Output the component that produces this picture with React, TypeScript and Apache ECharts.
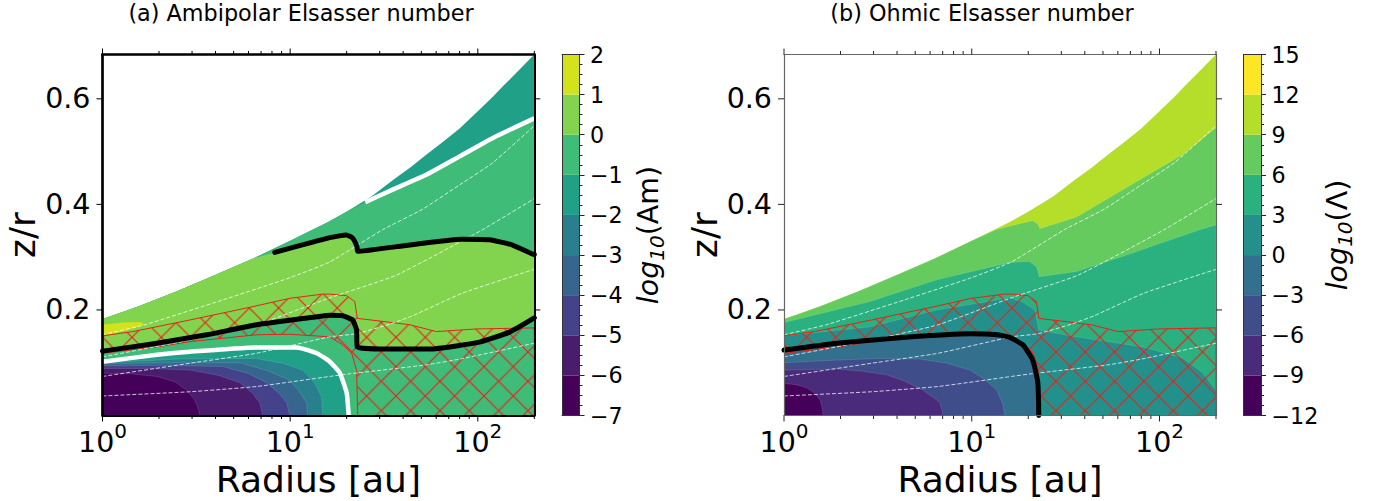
import React, { useEffect, useRef } from "react";
import * as echarts from "echarts";

type P = number[];
const FONT = "DejaVu Sans";
const W = 1384, H = 501;

// values: each point is [log10(radius / au), z/r]
const diskSurface: P[] = [[0,.183],[.1,.195],[.2,.208],[.4,.236],[.6,.266],[.8,.297],[1.0,.331],[1.2,.366],[1.3,.386],[1.433,.415],[1.548,.446],[1.64,.470],[1.725,.494],[1.82,.520],[1.903,.544],[1.99,.573],[2.08,.604],[2.14,.626],[2.204,.649],[2.301,.684]];

const amWhiteUpper: P[] = [[1.40,.404],[1.546,.428],[1.725,.456],[1.903,.491],[2.08,.526],[2.301,.563]];
const amBlackUpper: P[] = [[.918,.309],[1.211,.337],[1.300,.342],[1.333,.336],[1.356,.320],[1.360,.311],[1.567,.320],[1.919,.334],[2.062,.333],[2.185,.323],[2.291,.306],[2.301,.305]];
const amBlackLower: P[] = [[0,.122],[.29,.137],[.556,.153],[.822,.172],[1.142,.187],[1.211,.190],[1.280,.189],[1.333,.181],[1.354,.162],[1.357,.130],[1.477,.126],[1.743,.126],[2.009,.139],[2.169,.158],[2.301,.185]];
const amYellowPatch: P[] = [[0,.172],[.109,.176],[.20,.177],[.226,.173],[.173,.166],[.093,.158],[0,.151]];
const amWhiteLower: P[] = [[0,.102],[.29,.115],[.466,.121],[.822,.129],[1.035,.129],[1.142,.118],[1.211,.102],[1.264,.081],[1.301,.043],[1.312,0]];
const amLevelM2: P[] = [[0,.100],[.412,.107],[.822,.108],[.96,.099],[1.067,.086],[1.13,.062],[1.168,.035],[1.173,0]];
const amLevelM3: P[] = [[0,.098],[.35,.100],[.732,.100],[.88,.085],[.998,.067],[1.05,.045],[1.088,.024],[1.094,0]];
const amLevelM4: P[] = [[0,.094],[.3,.095],[.641,.093],[.78,.079],[.875,.062],[.94,.042],[.982,.024],[.998,0]];
const amLevelM5: P[] = [[0,.089],[.25,.089],[.466,.086],[.62,.076],[.732,.062],[.80,.042],[.838,.024],[.854,0]];
const amLevelM6: P[] = [[0,.080],[.15,.079],[.29,.074],[.386,.064],[.45,.048],[.49,.030],[.508,.016],[.519,0]];

const ohLevel9: P[] = [[1.130,.352],[1.203,.359],[1.325,.369],[1.352,.363],[1.362,.354],[1.559,.376],[1.911,.450],[2.123,.494],[2.301,.545]];
const ohLevel6: P[] = [[0,.176],[.458,.216],[.814,.257],[1.203,.290],[1.309,.292],[1.346,.281],[1.359,.263],[1.559,.273],[1.825,.304],[2.214,.352],[2.301,.361]];
const ohLevel3: P[] = [[0,.151],[.458,.168],[.814,.200],[1.203,.223],[1.272,.215],[1.336,.200],[1.357,.162],[1.559,.149],[1.911,.130],[2.123,.109],[2.230,.081],[2.301,.048]];
const ohBlack: P[] = [[0,.124],[.282,.137],[.633,.148],[.990,.155],[1.134,.153],[1.203,.148],[1.272,.134],[1.325,.105],[1.352,.062],[1.357,0]];
const ohLevelM3: P[] = [[0,.100],[.282,.105],[.5,.108],[.724,.107],[.87,.099],[.99,.086],[1.07,.068],[1.134,.048],[1.165,.022],[1.176,0]];
const ohLevelM6: P[] = [[0,.086],[.282,.088],[.42,.084],[.548,.077],[.65,.064],[.74,.048],[.80,.033],[.83,.024],[.842,.01],[.846,0]];
const ohLevelM9: P[] = [[0,.061],[.07,.058],[.122,.052],[.165,.042],[.192,.029],[.205,.012],[.208,0]];

const deadZone: P[] = [[0,.151],[.162,.159],[.466,.181],[.785,.205],[.998,.222],[1.173,.230],[1.211,.230],[1.301,.227],[1.344,.216],[1.358,.184],[1.477,.179],[1.636,.172],[1.780,.159],[1.993,.164],[2.301,.166],[2.301,0],[1.36,0],[1.354,.086],[1.328,.118],[1.280,.134],[1.211,.149],[.998,.154],[.822,.153],[.466,.140],[.29,.130],[0,.118]];

const dashedA: P[] = [[0,.037],[.466,.045],[.822,.055],[1.211,.074],[1.317,.079],[1.727,.096],[1.919,.108],[2.301,.137]];
const dashedB: P[] = [[0,.074],[.466,.099],[.822,.118],[1.211,.149],[1.354,.155],[1.530,.173],[1.652,.189],[1.919,.232],[2.301,.277]];
const dashedC: P[] = [[0,.111],[.466,.143],[.822,.172],[1.211,.223],[1.567,.266],[2.025,.352],[2.301,.411]];
const dashedD: P[] = [[0,.153],[.226,.172],[.641,.219],[.998,.261],[1.211,.291],[1.493,.352],[1.706,.391],[1.903,.437],[2.08,.479],[2.301,.549]];

const amLevels = [-7,-6,-5,-4,-3,-2,-1,0,1,2];
const amColors = ["#45015a","#4a1c6e","#44428a","#36668e","#2a7f8e","#20a187","#3fbc78","#82d44f","#d2e21b"];
const ohLevels = [-12,-9,-6,-3,0,3,6,9,12,15];
const ohColors = ["#45015a","#4a2a7a","#3f4e8a","#32708e","#24908c","#2bb07f","#65cb5e","#b5de2b","#fde725"];

const xMajor = [1,10,100];
const xMinor = [2,3,4,5,6,7,8,9,20,30,40,50,60,70,80,90,200];
const yMajor = [.2,.4,.6];
const xLim = [1,200];
const yLim = [0,.684];

const toData = (p: P) => [Math.pow(10,p[0]), p[1]];
const surfaceTo = (l: number) => diskSurface.filter(p => p[0] < l);
const closeBelow = (b: P[]) => (b[b.length-1][1] === 0 ? [...b,[0,0]] : [...b,[2.301,0],[0,0]]);

const hatchSvg = "data:image/svg+xml;utf8," + encodeURIComponent(
  '<svg xmlns="http://www.w3.org/2000/svg" width="30" height="30" viewBox="0 0 29.33 29.33"><path d="M-2 -2L31.33 31.33M31.33 -2L-2 31.33" stroke="#e4231a" stroke-width="1.2" fill="none"/></svg>');

let zc = 2;
function poly(g: number, pts: P[], fill: any, stroke = "rgba(255,255,255,0.25)", lw = 0.5) {
  const data = pts.map(toData);
  return {
    type: "custom", xAxisIndex: g*2, yAxisIndex: g*2, coordinateSystem: "cartesian2d",
    z: zc++, silent: true, clip: true, data, encode: { x: 0, y: 1 },
    renderItem: (params: any, api: any) => {
      if (params.dataIndex !== 0) return null;
      return { type: "polygon", shape: { points: data.map(d => api.coord(d)) }, style: { fill, stroke, lineWidth: lw } };
    },
  };
}
function curve(g: number, pts: P[], color: string, width: number, dash?: any, cap = "round") {
  return {
    type: "line", xAxisIndex: g*2, yAxisIndex: g*2, z: zc++, silent: true, clip: true, showSymbol: false, symbol: "none",
    data: pts.map(toData), smooth: 0.15,
    lineStyle: { color, width, type: dash || "solid", cap, join: "round" },
  };
}
function ticks(g: number, color: string) {
  return {
    type: "custom", xAxisIndex: g*2, yAxisIndex: g*2, coordinateSystem: "cartesian2d", z: 200, silent: true, clip: false,
    data: [[1,.2]], encode: { x: 0, y: 1 },
    renderItem: (_p: any, api: any) => {
      const children: any[] = [];
      const seg = (a: number[], dx: number, dy: number) => children.push({ type: "line", shape: { x1: a[0], y1: a[1], x2: a[0]+dx, y2: a[1]+dy }, style: { stroke: color, lineWidth: 1 } });
      xMajor.forEach(x => { seg(api.coord([x,yLim[0]]),0,6); seg(api.coord([x,yLim[1]]),0,-6); });
      xMinor.forEach(x => { seg(api.coord([x,yLim[0]]),0,3.5); seg(api.coord([x,yLim[1]]),0,-3.5); });
      yMajor.forEach(y => { seg(api.coord([xLim[0],y]),-6,0); seg(api.coord([xLim[1],y]),6,0); });
      return { type: "group", children };
    },
  };
}
function cbarBands(g: number, levels: number[], colors: string[]) {
  const data = colors.map((_, i) => [0, levels[i], levels[i+1], i]);
  return {
    type: "custom", xAxisIndex: g*2, yAxisIndex: g*2+1, coordinateSystem: "cartesian2d", z: 3, silent: true, data,
    encode: { x: 0, y: 1 },
    renderItem: (params: any, api: any) => {
      const d = data[params.dataIndex];
      const a = api.coord([0,d[1]]), b = api.coord([1,d[2]]);
      return { type: "rect", shape: { x: a[0], y: b[1], width: b[0]-a[0], height: a[1]-b[1] }, style: { fill: colors[d[3]] } };
    },
  };
}

const ambipolarSeries = () => [
  poly(0,closeBelow(diskSurface),amColors[5],"none",0),
  poly(0,[...surfaceTo(1.39),...amWhiteUpper,[2.301,0],[0,0]],amColors[6],"none",0),
  poly(0,[...surfaceTo(.9),...amBlackUpper,...[...amBlackLower].reverse()],amColors[7],"none",0),
  poly(0,amYellowPatch,amColors[8],"none",0),
  poly(0,closeBelow(amWhiteLower),amColors[5]),
  poly(0,closeBelow(amLevelM2),amColors[4]),
  poly(0,closeBelow(amLevelM3),amColors[3]),
  poly(0,closeBelow(amLevelM4),amColors[2]),
  poly(0,closeBelow(amLevelM5),amColors[1]),
  poly(0,closeBelow(amLevelM6),amColors[0]),
  poly(0,deadZone,{ image: hatchSvg, repeat: "repeat", imageWidth: 29.33, imageHeight: 29.33, x: 0.4, y: -0.2 },"#e4231a",1),
  curve(0,dashedA,"rgba(255,255,255,0.75)",1,[4,2],"butt"),
  curve(0,dashedB,"rgba(255,255,255,0.75)",1,[4,2],"butt"),
  curve(0,dashedC,"rgba(255,255,255,0.75)",1,[4,2],"butt"),
  curve(0,dashedD,"rgba(255,255,255,0.75)",1,[4,2],"butt"),
  curve(0,amWhiteUpper,"#ffffff",4.5,undefined,"butt"),
  curve(0,amWhiteLower,"#ffffff",4.5,undefined,"butt"),
  curve(0,amBlackUpper,"#000000",5),
  curve(0,amBlackLower,"#000000",5),
  ticks(0,"#000"),
];
const ohmicSeries = () => [
  poly(1,closeBelow(diskSurface),ohColors[7],"none",0),
  poly(1,[...surfaceTo(1.13),...ohLevel9,[2.301,0],[0,0]],ohColors[6]),
  poly(1,closeBelow(ohLevel6),ohColors[5]),
  poly(1,closeBelow(ohLevel3),ohColors[4]),
  poly(1,closeBelow(ohBlack),ohColors[3]),
  poly(1,closeBelow(ohLevelM3),ohColors[2]),
  poly(1,closeBelow(ohLevelM6),ohColors[1]),
  poly(1,closeBelow(ohLevelM9),ohColors[0]),
  poly(1,deadZone,{ image: hatchSvg, repeat: "repeat", imageWidth: 29.33, imageHeight: 29.33, x: 21.7, y: 0.4 },"#e4231a",1),
  curve(1,dashedA,"rgba(255,255,255,0.75)",1,[4,2],"butt"),
  curve(1,dashedB,"rgba(255,255,255,0.75)",1,[4,2],"butt"),
  curve(1,dashedC,"rgba(255,255,255,0.75)",1,[4,2],"butt"),
  curve(1,dashedD,"rgba(255,255,255,0.75)",1,[4,2],"butt"),
  curve(1,ohBlack,"#000000",5),
  ticks(1,"#222"),
];

const line = (color: string, width: number) => ({ show: true, onZero: false, lineStyle: { color, width } });

function mainAxes(g: number, color: string, wLeft: number, wTop: number, wRight: number, wBottom: number) {
  const xBottom: any = {
    type: "log", logBase: 10, gridIndex: g, position: "bottom", min: xLim[0], max: xLim[1], z: 100,
    axisLine: line(color,wBottom), axisTick: { show: false }, splitLine: { show: false }, minorTick: { show: false }, minorSplitLine: { show: false },
    axisLabel: {
      interval: 0, margin: 5, color: "#000", fontFamily: FONT, hideOverlap: false,
      formatter: (v: number) => { const e = Math.round(Math.log10(v)*1000)/1000; return Number.isInteger(e) ? `{b|10}{s|${e}}` : ""; },
      rich: { b: { fontFamily: FONT, fontSize: 28.5, lineHeight: 36, verticalAlign: "bottom" }, s: { fontFamily: FONT, fontSize: 20, lineHeight: 36, verticalAlign: "top", padding: [0,0,6,0] } },
    },
    name: "Radius [au]", nameLocation: "middle", nameGap: 42, nameTextStyle: { fontFamily: FONT, fontSize: 36, color: "#000" },
  };
  const xTop: any = { type: "log", logBase: 10, gridIndex: g, position: "top", min: xLim[0], max: xLim[1], z: 100, axisLine: line(color,wTop), axisTick: { show: false }, axisLabel: { show: false }, splitLine: { show: false } };
  const yLeft: any = {
    type: "value", gridIndex: g, position: "left", min: yLim[0], max: yLim[1], interval: .2, z: 100,
    axisLine: line(color,wLeft), axisTick: { show: false }, splitLine: { show: false },
    axisLabel: { margin: 12, color: "#000", fontFamily: FONT, fontSize: 28.5, formatter: (v: number) => (yMajor.some(t => Math.abs(t-v) < 1e-6) ? v.toFixed(1) : "") },
    name: "z/r", nameLocation: "middle", nameGap: 62, nameTextStyle: { fontFamily: FONT, fontSize: 36, color: "#000" },
  };
  const yRight: any = { type: "value", gridIndex: g, position: "right", min: yLim[0], max: yLim[1], interval: .2, z: 100, axisLine: line(color,wRight), axisTick: { show: false }, axisLabel: { show: false }, splitLine: { show: false } };
  return { x: [xBottom,xTop], y: [yLeft,yRight] };
}
function cbarAxes(g: number, levels: number[], step: number, sym: string, gap: number) {
  const c = "#333";
  const xBottom: any = { type: "value", gridIndex: g, position: "bottom", min: 0, max: 1, axisLine: line(c,1), axisTick: { show: false }, axisLabel: { show: false }, splitLine: { show: false }, z: 100 };
  const xTop: any = { ...xBottom, position: "top" };
  const yLeft: any = { type: "value", gridIndex: g, position: "left", min: levels[0], max: levels[levels.length-1], interval: step, axisLine: line(c,1), axisTick: { show: false }, axisLabel: { show: false }, splitLine: { show: false }, z: 100 };
  const yRight: any = {
    type: "value", gridIndex: g, position: "right", min: levels[0], max: levels[levels.length-1], interval: step, z: 100,
    axisLine: line(c,1), axisTick: { show: true, length: 5, lineStyle: { color: "#222", width: 1 } },
    minorTick: { show: true, splitNumber: 4, length: 3, lineStyle: { color: "#222", width: 1 } }, splitLine: { show: false },
    axisLabel: { margin: 10.5, color: "#000", fontFamily: FONT, fontSize: 22.2, align: "left", formatter: (v: number) => String(v).replace("-","\u2212") },
    name: `{i|log}{s|10}{r|(${sym})}`, nameLocation: "middle", nameGap: gap, nameRotate: 90,
    nameTextStyle: { rich: {
      i: { fontFamily: FONT, fontStyle: "italic", fontSize: 28.5, color: "#000", lineHeight: 36 },
      s: { fontFamily: FONT, fontStyle: "italic", fontSize: 20, color: "#000", lineHeight: 36, verticalAlign: "bottom", padding: [8,0,0,0] },
      r: { fontFamily: FONT, fontSize: 28.5, color: "#000", lineHeight: 36 },
    } },
  };
  return { x: [xBottom,xTop], y: [yLeft,yRight] };
}

export default function App() {
  const ref = useRef<HTMLDivElement>(null);
  useEffect(() => {
    if (!ref.current) return;
    const chart = echarts.init(ref.current, undefined, { renderer: "svg", width: W, height: H });
    zc = 2;
    const a0 = mainAxes(0,"#000",2.7,2.7,2,2);
    const a1 = mainAxes(1,"#666",1.2,1.2,1.2,1.2);
    const a2 = cbarAxes(2,amLevels,1,"Am",51);
    const a3 = cbarAxes(3,ohLevels,3,"\u039B",58);
    const gridOf = (l: number, r: number) => ({ left: l, width: r-l, top: 54.5, height: 361, show: false, containLabel: false, outerBoundsMode: "none" });
    chart.setOption({
      animation: false,
      backgroundColor: "#ffffff",
      textStyle: { fontFamily: FONT },
      title: [
        { text: "(a) Ambipolar Elsasser number", left: 301, top: 2, textAlign: "center", padding: 0, textStyle: { fontFamily: FONT, fontSize: 22.3, fontWeight: "normal", color: "#000" } },
        { text: "(b) Ohmic Elsasser number", left: 982, top: 2, textAlign: "center", padding: 0, textStyle: { fontFamily: FONT, fontSize: 22.3, fontWeight: "normal", color: "#000" } },
      ],
      grid: [gridOf(102.5,534.3), gridOf(784,1216), gridOf(562,579.5), gridOf(1243.5,1261)],
      xAxis: [...a0.x,...a1.x,...a2.x,...a3.x],
      yAxis: [...a0.y,...a1.y,...a2.y,...a3.y],
      series: [...ambipolarSeries(),...ohmicSeries(),cbarBands(2,amLevels,amColors),cbarBands(3,ohLevels,ohColors)],
    });
    return () => chart.dispose();
  }, []);
  return <div ref={ref} style={{ position: "absolute", left: 0, top: 0, width: W, height: H, background: "#fff" }} />;
}
